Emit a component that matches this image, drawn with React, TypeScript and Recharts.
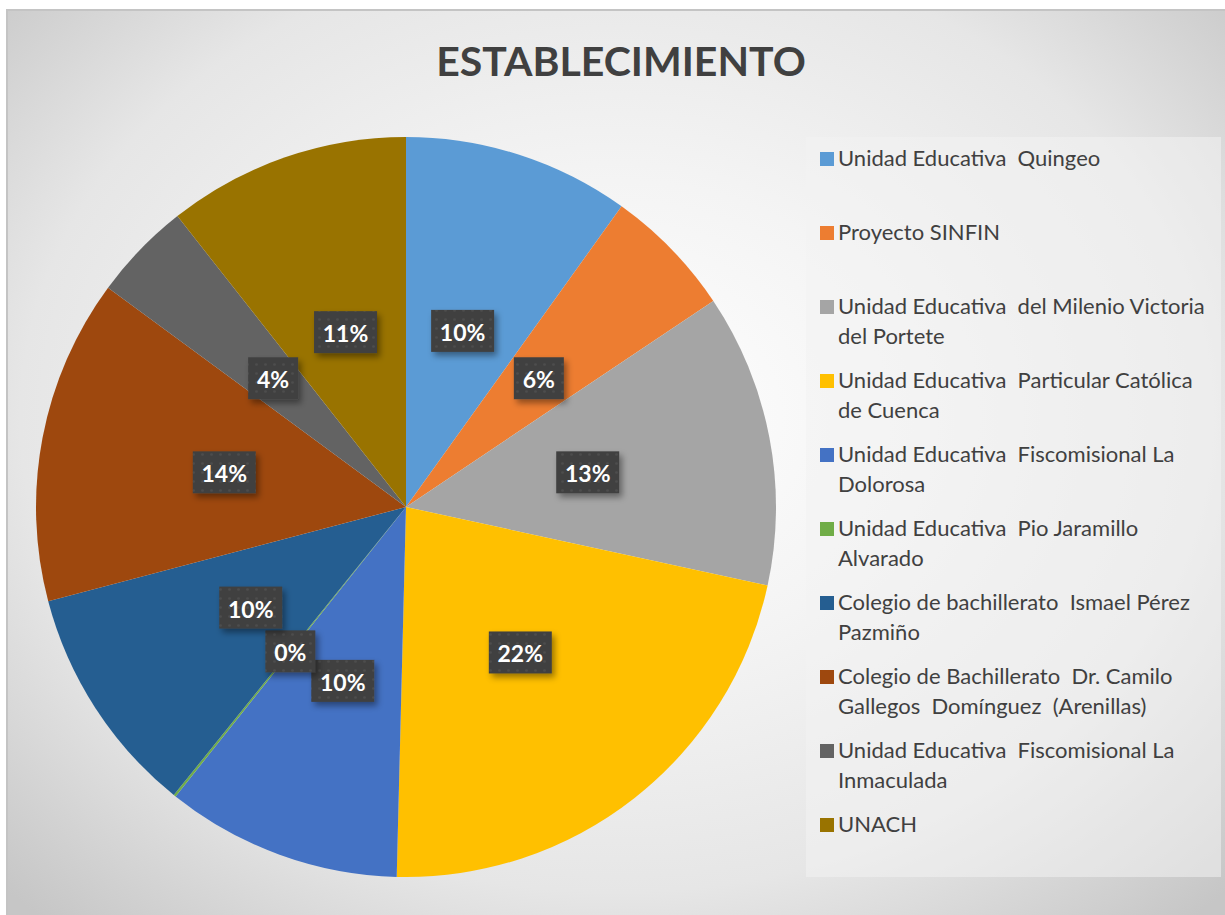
import React from 'react';
import { PieChart, Pie, Cell, Legend } from 'recharts';

const categories = [
  'Unidad Educativa  Quingeo',
  'Proyecto SINFIN',
  'Unidad Educativa  del Milenio Victoria del Portete',
  'Unidad Educativa  Particular Católica de Cuenca',
  'Unidad Educativa  Fiscomisional La Dolorosa',
  'Unidad Educativa  Pio Jaramillo Alvarado',
  'Colegio de bachillerato  Ismael Pérez Pazmiño',
  'Colegio de Bachillerato  Dr. Camilo Gallegos  Domínguez  (Arenillas)',
  'Unidad Educativa  Fiscomisional La Inmaculada',
  'UNACH',
];

// percentages
const shares = [9.9, 5.7, 12.8, 22.0, 10.3, 0.1, 10.1, 14.2, 4.3, 10.6];

const colors = ['#5B9BD5', '#ED7D31', '#A5A5A5', '#FFC000', '#4472C4', '#70AD47', '#255E91', '#9E480E', '#636363', '#997300'];

const data = categories.map((name, i) => ({ name, value: shares[i] }));

const RADIAN = Math.PI / 180;

const renderLabel = (props: any) => {
  const { cx, cy, midAngle, outerRadius, value } = props;
  const r = outerRadius * 0.5;
  const x = cx + r * Math.cos(-midAngle * RADIAN);
  const y = cy + r * Math.sin(-midAngle * RADIAN);
  const text = `${Math.round(value)}%`;
  const w = text.length === 2 ? 50 : 63;
  return (
    <g>
      <rect x={x - w / 2} y={y - 21} width={w} height={42} fill="url(#dots)" filter="url(#shadow)" />
      <text
        x={x}
        y={y + 1}
        textAnchor="middle"
        dominantBaseline="central"
        fill="#ffffff"
        fontFamily="Lato, 'Open Sans', sans-serif"
        fontWeight={700}
        fontSize={23}
      >
        {text}
      </text>
    </g>
  );
};

const LegendBox = ({ payload }: any) => {
  const items = [...(payload || [])].sort((a: any, b: any) => categories.indexOf(a.value) - categories.indexOf(b.value));
  return (
    <div style={{ width: 415, height: 740, background: 'rgba(242,242,242,0.55)', fontFamily: "Lato, 'Open Sans', sans-serif" }}>
      {items.map((p: any, i: number) => (
        <div key={i} style={{ height: 74, display: 'flex', alignItems: 'flex-start', paddingTop: 6, boxSizing: 'border-box', paddingLeft: 14 }}>
          <span style={{ width: 14, height: 14, background: p.color, marginTop: 9, marginRight: 4, flex: 'none' }} />
          <span style={{ fontSize: 22, lineHeight: '30px', color: '#404040', whiteSpace: 'pre-wrap', width: 375 }}>{p.value}</span>
        </div>
      ))}
    </div>
  );
};

export default function App() {
  return (
    <div style={{ position: 'absolute', left: 0, top: 0, width: 1225, height: 915, background: '#fff', overflow: 'hidden' }}>
      <div
        style={{
          position: 'absolute',
          left: 6,
          top: 9,
          width: 1219,
          height: 906,
          borderLeft: '2px solid #c4c4c4',
          borderTop: '2px solid #c4c4c4',
          boxSizing: 'border-box',
          background: 'radial-gradient(ellipse 70% 75% at 50% 45%, #ffffff 0%, #f4f4f4 35%, #e6e6e6 70%, #c6c6c6 100%)',
        }}
      />
      <div
        style={{
          position: 'absolute',
          left: 0,
          top: 36,
          width: 1225,
          textAlign: 'center',
          paddingLeft: 17,
          boxSizing: 'border-box',
          fontFamily: "Lato, 'Open Sans', sans-serif",
          fontWeight: 700,
          fontSize: 41,
          color: '#404040',
        }}
      >
        ESTABLECIMIENTO
      </div>
      <div style={{ position: 'absolute', left: 0, top: 0 }}>
        <PieChart width={1225} height={915} margin={{ top: 0, right: 0, bottom: 0, left: 0 }}>
          <defs>
            <pattern id="dots" width="9" height="9" patternUnits="userSpaceOnUse">
              <rect width="9" height="9" fill="#404040" />
              <circle cx="4.5" cy="4.5" r="1.3" fill="#4e4e4e" />
            </pattern>
            <filter id="shadow" x="-20%" y="-20%" width="150%" height="160%">
              <feDropShadow dx="3" dy="4" stdDeviation="3" floodColor="#000" floodOpacity="0.4" />
            </filter>
          </defs>
          <Pie
            data={data}
            dataKey="value"
            nameKey="name"
            cx={406}
            cy={507}
            outerRadius={370}
            startAngle={90}
            endAngle={-270}
            stroke="none"
            label={renderLabel}
            labelLine={false}
            isAnimationActive={false}
          >
            {data.map((d, i) => (
              <Cell key={d.name} fill={colors[i]} />
            ))}
          </Pie>
          <Legend
            content={<LegendBox />}
            wrapperStyle={{ position: 'absolute', left: 806, top: 137, width: 415, height: 740 }}
          />
        </PieChart>
      </div>
    </div>
  );
}
